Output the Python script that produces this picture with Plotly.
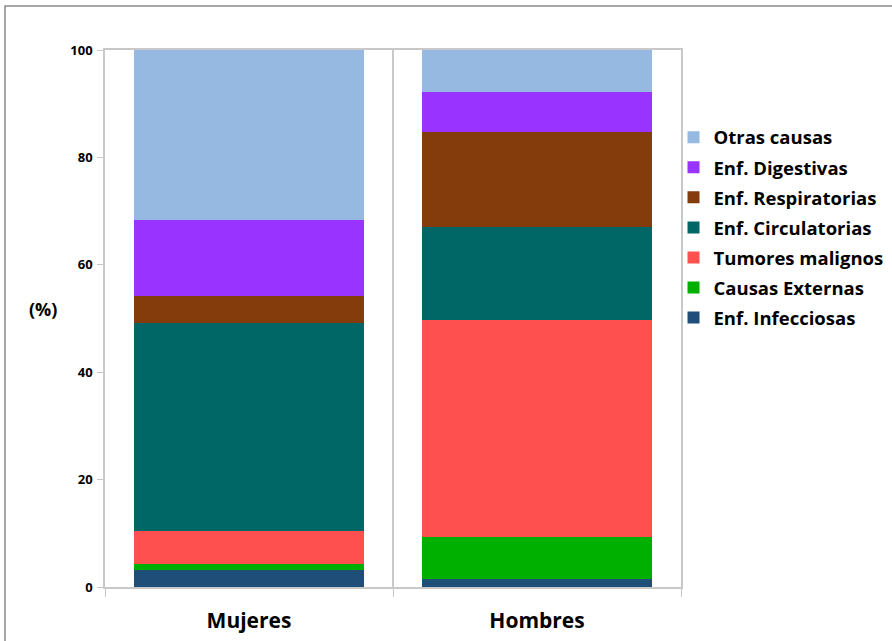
import plotly.graph_objects as go

# Percentage of deaths by cause group, women vs men
sexos = ["Mujeres", "Hombres"]

causas = [
    "Enf. Infecciosas",
    "Causas Externas",
    "Tumores malignos",
    "Enf. Circulatorias",
    "Enf. Respiratorias",
    "Enf. Digestivas",
    "Otras causas",
]

infecciosas = [3.2, 1.5]
externas = [1.1, 7.8]
tumores = [6.1, 40.4]
circulatorias = [38.7, 17.3]
respiratorias = [5.1, 17.8]
digestivas = [14.2, 7.3]
otras = [31.6, 7.9]

series = [infecciosas, externas, tumores, circulatorias,
          respiratorias, digestivas, otras]

colores = ["#1F4E79", "#00B000", "#FF5050", "#006666",
           "#843C0C", "#9933FF", "#95B9E0"]

FONT = "Open Sans"

fig = go.Figure()
n = len(causas)
for i, (nombre, valores, color) in enumerate(zip(causas, series, colores)):
    fig.add_trace(go.Bar(
        x=sexos, y=valores, name=nombre, legendgroup=nombre,
        legendrank=n - i,  # top of the stack listed first
        marker=dict(color=color, line=dict(width=0)),
    ))

fig.update_layout(
    barmode="stack",
    bargap=0.2,
    width=892, height=641,
    margin=dict(l=105, r=211, t=50, b=54, autoexpand=False),
    paper_bgcolor="white",
    plot_bgcolor="white",
    font=dict(family=FONT, color="black"),
    showlegend=True,
    legend=dict(
        traceorder="grouped",
        tracegroupgap=3,
        x=0.987, y=0.872, xanchor="left", yanchor="top",
        font=dict(family=FONT, size=18.5, color="black", weight="bold"),
        bgcolor="rgba(0,0,0,0)",
        itemwidth=30,
    ),
    xaxis=dict(
        type="category",
        tickson="boundaries",
        ticks="outside", ticklen=8, tickcolor="#c8c8c8",
        showgrid=True, gridcolor="#c8c8c8", gridwidth=1.5,
        showline=True, linecolor="#c8c8c8", linewidth=1.5, mirror=True,
        tickfont=dict(family=FONT, size=21, color="black", weight="bold"),
        ticklabelstandoff=14,
    ),
    yaxis=dict(
        range=[0, 100], dtick=20,
        ticks="outside", ticklen=6, tickcolor="#c8c8c8",
        showgrid=False, zeroline=False,
        showline=True, linecolor="#c8c8c8", linewidth=1.5, mirror=True,
        tickfont=dict(family=FONT, size=13, color="black", weight="bold"),
        ticklabelstandoff=2,
    ),
    annotations=[dict(
        text="(%)", xref="paper", yref="paper",
        x=-0.108, y=0.517, xanchor="center", yanchor="middle",
        showarrow=False,
        font=dict(family=FONT, size=18, color="black", weight="bold"),
    )],
    shapes=[dict(
        type="rect", xref="paper", yref="paper",
        x0=-0.1736, x1=2.0, y0=-1.0, y1=1.082,
        line=dict(color="#8a8a8a", width=1.5),
        fillcolor="rgba(0,0,0,0)", layer="below",
    )],
)

fig.write_html("out.html")
